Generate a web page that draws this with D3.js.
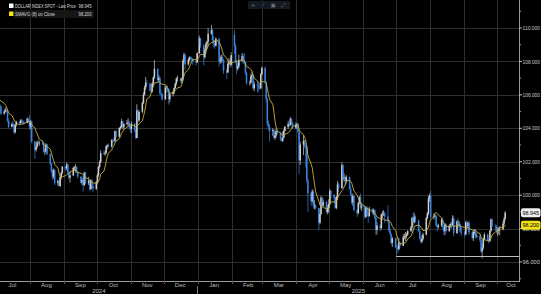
<!DOCTYPE html>
<html><head><meta charset="utf-8">
<script src="https://cdn.jsdelivr.net/npm/d3@7"></script>
<style>html,body{margin:0;padding:0;background:#000;overflow:hidden}svg{display:block}</style>
</head><body>
<svg id="chart" width="541" height="294"></svg>
<script>
// ---- DATA: daily candles [day, open, high, low, close] per month ----
const jun24 = [[20,105.62,105.85,105.55,105.80],[21,105.80,105.91,105.60,105.80],[24,105.80,105.85,105.40,105.50],[25,105.50,105.70,105.40,105.60],[26,105.60,106.13,105.55,106.05],[27,106.05,106.10,105.75,105.90],[28,105.90,106.00,105.60,105.87]];
const jul24 = [[1,105.87,106.00,105.60,105.90],[2,105.90,106.05,105.60,105.73],[3,105.73,105.80,105.25,105.38],[4,105.38,105.45,105.20,105.30],[5,105.30,105.35,104.80,104.88],[8,104.88,105.10,104.80,105.00],[9,105.00,105.25,104.95,105.12],[10,105.12,105.20,104.95,105.05],[11,105.05,105.10,104.35,104.45],[12,104.45,104.55,104.00,104.09],[15,104.09,104.35,104.05,104.26],[16,104.26,104.45,104.15,104.24],[17,104.24,104.30,103.65,103.76],[18,103.76,104.25,103.70,104.20],[19,104.20,104.45,104.10,104.40],[22,104.40,104.45,104.20,104.31],[23,104.31,104.55,104.25,104.47],[24,104.47,104.55,104.30,104.40],[25,104.40,104.50,104.20,104.35],[26,104.35,104.45,104.25,104.32],[29,104.32,104.65,104.30,104.57],[30,104.57,104.60,104.35,104.43],[31,104.43,104.80,103.90,104.10]];
const aug24 = [[1,104.10,104.50,103.95,104.40],[2,104.40,104.45,103.10,103.21],[5,103.21,103.25,102.16,102.71],[6,102.71,103.00,102.60,102.89],[7,102.89,103.25,102.80,103.17],[8,103.17,103.30,103.00,103.14],[9,103.14,103.25,102.95,103.14],[12,103.14,103.30,103.00,103.13],[13,103.13,103.20,102.55,102.61],[14,102.61,102.80,102.40,102.63],[15,102.63,103.10,102.55,103.03],[16,103.03,103.05,102.40,102.45],[19,102.45,102.50,101.80,101.88],[20,101.88,101.95,101.35,101.44],[21,101.44,101.55,100.92,101.10],[22,101.10,101.60,100.98,101.50],[23,101.50,101.55,100.60,100.72],[26,100.72,100.90,100.55,100.85],[27,100.85,100.95,100.51,100.55],[28,100.55,101.15,100.50,101.08],[29,101.08,101.40,100.95,101.34],[30,101.34,101.75,101.25,101.70]];
const sep24 = [[2,101.70,101.75,101.45,101.60],[3,101.60,101.95,101.50,101.84],[4,101.84,101.88,101.25,101.35],[5,101.35,101.42,100.95,101.05],[6,101.05,101.40,100.75,101.18],[9,101.18,101.70,101.15,101.63],[10,101.63,101.75,101.45,101.64],[11,101.64,101.85,101.35,101.66],[12,101.66,101.75,101.30,101.37],[13,101.37,101.40,101.00,101.11],[16,101.11,101.15,100.70,100.75],[17,100.75,101.05,100.60,100.90],[18,100.90,101.15,100.22,100.60],[19,100.60,101.40,100.55,101.35],[20,101.35,101.40,100.65,100.72],[23,100.72,101.10,100.60,100.85],[24,100.85,100.90,100.25,100.36],[25,100.36,100.95,100.30,100.89],[26,100.89,100.95,100.45,100.55],[27,100.55,100.65,100.16,100.38],[30,100.38,100.85,100.30,100.78]];
const oct24 = [[1,100.78,101.30,100.70,101.19],[2,101.19,101.75,101.10,101.68],[3,101.68,102.08,101.60,101.99],[4,101.99,102.69,101.90,102.52],[7,102.52,102.68,102.40,102.47],[8,102.47,102.65,102.35,102.54],[9,102.54,102.98,102.45,102.93],[10,102.93,103.05,102.75,102.99],[11,102.99,103.10,102.85,102.90],[14,102.90,103.35,102.85,103.30],[15,103.30,103.35,103.10,103.25],[16,103.25,103.45,103.15,103.24],[17,103.24,103.87,103.20,103.83],[18,103.83,103.85,103.40,103.49],[21,103.49,104.05,103.45,104.02],[22,104.02,104.15,103.90,104.08],[23,104.08,104.57,104.00,104.42],[24,104.42,104.45,103.95,104.06],[25,104.06,104.30,103.95,104.26],[28,104.26,104.50,104.20,104.31],[29,104.31,104.60,104.15,104.34],[30,104.34,104.45,103.95,104.06],[31,104.06,104.15,103.75,103.97]];
const nov24 = [[1,103.97,104.40,103.70,104.28],[4,104.28,104.30,103.75,103.90],[5,103.90,104.00,103.37,103.42],[6,103.42,105.44,103.40,105.08],[7,105.08,105.15,104.35,104.47],[8,104.47,105.05,104.40,104.99],[11,104.99,105.60,104.90,105.52],[12,105.52,106.15,105.45,106.02],[13,106.02,106.55,105.95,106.45],[14,106.45,107.07,106.30,106.73],[15,106.73,106.90,106.50,106.68],[18,106.68,106.75,106.20,106.25],[19,106.25,106.65,106.10,106.20],[20,106.20,106.75,106.15,106.68],[21,106.68,107.10,106.55,107.04],[22,107.04,108.07,106.95,107.55],[25,107.55,107.60,106.70,106.89],[26,106.89,107.20,106.75,107.03],[27,107.03,107.05,105.98,106.10],[28,106.10,106.30,105.90,106.06],[29,106.06,106.10,105.65,105.74]];
const dec24 = [[2,105.74,106.55,105.70,106.44],[3,106.44,106.55,106.15,106.38],[4,106.38,106.55,106.15,106.35],[5,106.35,106.40,105.42,105.74],[6,105.74,106.10,105.55,106.04],[9,106.04,106.25,105.90,106.16],[10,106.16,106.45,106.05,106.41],[11,106.41,106.75,106.35,106.67],[12,106.67,107.05,106.55,106.96],[13,106.96,107.15,106.80,106.99],[16,106.99,107.00,106.70,106.84],[17,106.84,107.05,106.70,106.97],[18,106.97,108.15,106.85,108.03],[19,108.03,108.54,107.90,108.40],[20,108.40,108.45,107.50,107.82],[23,107.82,108.20,107.75,108.10],[24,108.10,108.30,108.00,108.26],[25,108.26,108.30,108.10,108.18],[26,108.18,108.25,108.00,108.13],[27,108.13,108.20,107.80,108.00],[30,108.00,108.15,107.75,107.94],[31,107.94,108.55,107.90,108.49]];
const jan25 = [[2,108.49,109.54,108.45,109.39],[3,109.39,109.40,108.80,108.95],[6,108.95,109.05,107.75,108.26],[7,108.26,108.80,108.15,108.70],[8,108.70,109.15,108.45,109.06],[9,109.06,109.25,108.90,109.18],[10,109.18,110.00,108.90,109.65],[13,109.65,110.18,109.60,109.88],[14,109.88,109.95,109.10,109.28],[15,109.28,109.50,108.85,109.09],[16,109.09,109.15,108.75,108.94],[17,108.94,109.45,108.90,109.35],[20,109.35,109.40,107.70,108.01],[21,108.01,108.35,107.85,108.07],[22,108.07,108.40,107.90,108.25],[23,108.25,108.45,107.95,108.05],[24,108.05,108.15,107.25,107.44],[27,107.44,107.55,106.95,107.34],[28,107.34,107.95,107.30,107.86],[29,107.86,108.20,107.75,108.04],[30,108.04,108.15,107.60,107.80],[31,107.80,108.55,107.70,108.37]];
const feb25 = [[3,109.60,109.88,108.45,108.94],[4,108.94,109.05,107.90,108.00],[5,108.00,108.10,107.25,107.57],[6,107.57,107.90,107.45,107.71],[7,107.71,108.40,107.60,108.04],[10,108.04,108.50,107.95,108.33],[11,108.33,108.45,107.85,107.96],[12,107.96,108.50,107.80,107.95],[13,107.95,108.00,107.20,107.31],[14,107.31,107.40,106.60,106.71],[17,106.71,106.85,106.55,106.74],[18,106.74,107.25,106.65,107.11],[19,107.11,107.40,106.95,107.19],[20,107.19,107.25,106.30,106.39],[21,106.39,106.80,106.20,106.63],[24,106.63,106.85,106.12,106.56],[25,106.56,106.70,106.20,106.45],[26,106.45,106.70,106.30,106.39],[27,106.39,107.30,106.35,107.24],[28,107.24,107.70,107.15,107.61]];
const mar25 = [[3,107.61,107.70,106.70,106.76],[4,106.76,106.80,105.55,105.72],[5,105.72,105.80,104.15,104.28],[6,104.28,104.45,103.90,104.08],[7,104.08,104.25,103.21,103.84],[10,103.84,104.00,103.55,103.90],[11,103.90,103.95,103.40,103.42],[12,103.42,103.80,103.30,103.57],[13,103.57,103.95,103.45,103.84],[14,103.84,103.95,103.60,103.72],[17,103.72,103.80,103.25,103.37],[18,103.37,103.45,103.20,103.25],[19,103.25,103.80,103.19,103.44],[20,103.44,103.95,103.40,103.84],[21,103.84,104.15,103.80,104.09],[24,104.09,104.45,103.95,104.26],[25,104.26,104.35,104.05,104.21],[26,104.21,104.68,104.15,104.56],[27,104.56,104.60,104.15,104.32],[28,104.32,104.40,103.95,104.04],[31,104.04,104.35,103.95,104.21]];
const apr25 = [[1,104.21,104.30,103.95,104.24],[2,104.24,104.35,103.70,103.79],[3,103.79,103.80,101.26,102.08],[4,102.08,103.20,101.80,103.02],[7,103.02,103.55,102.40,103.26],[8,103.26,103.30,102.80,102.96],[9,102.96,103.10,101.65,102.89],[10,102.89,102.95,100.75,100.86],[11,100.86,101.00,99.01,100.10],[14,100.10,100.20,99.35,99.64],[15,99.64,100.35,99.55,100.22],[16,100.22,100.30,99.20,99.38],[17,99.38,99.70,99.15,99.38],[18,99.38,99.45,99.15,99.23],[21,99.23,99.25,97.92,98.35],[22,98.35,99.15,98.25,98.86],[23,98.86,99.95,98.80,99.85],[24,99.85,99.90,99.25,99.38],[25,99.38,99.75,99.30,99.58],[28,99.58,99.65,98.90,98.99],[29,98.99,99.40,98.85,99.22],[30,99.22,99.75,98.95,99.47]];
const may25 = [[1,99.47,100.38,99.40,100.25],[2,100.25,100.30,99.75,100.03],[5,100.03,100.05,99.55,99.84],[6,99.84,99.90,99.20,99.24],[7,99.24,99.95,99.15,99.89],[8,99.89,100.85,99.70,100.64],[9,100.64,100.75,100.20,100.42],[12,100.42,101.98,100.40,101.79],[13,101.79,101.85,100.90,100.99],[14,100.99,101.30,100.80,101.05],[15,101.05,101.15,100.55,100.84],[16,100.84,101.20,100.70,101.09],[19,101.09,101.10,100.35,100.37],[20,100.37,100.55,99.95,100.05],[21,100.05,100.10,99.45,99.55],[22,99.55,100.10,99.35,99.95],[23,99.95,100.00,99.00,99.11],[26,99.11,99.15,98.70,98.92],[27,98.92,99.60,98.85,99.52],[28,99.52,99.95,99.45,99.88],[29,99.88,100.10,99.15,99.26],[30,99.26,99.55,99.05,99.33]];
const jun25 = [[2,99.33,99.35,98.58,98.70],[3,98.70,99.30,98.65,99.24],[4,99.24,99.35,98.75,98.80],[5,98.80,98.95,98.35,98.75],[6,98.75,99.30,98.70,99.19],[9,99.19,99.20,98.85,98.95],[10,98.95,99.20,98.80,99.09],[11,99.09,99.15,98.55,98.64],[12,98.64,98.70,97.60,97.92],[13,97.92,98.40,97.65,98.18],[16,98.18,98.25,97.85,98.03],[17,98.03,98.90,97.95,98.84],[18,98.84,99.05,98.60,98.89],[19,98.89,99.10,98.75,98.91],[20,98.91,99.00,98.35,98.72],[23,98.72,99.40,98.35,98.43],[24,98.43,98.50,97.80,97.86],[25,97.86,98.05,97.60,97.68],[26,97.68,97.70,97.05,97.15],[27,97.15,97.50,96.90,97.40],[30,97.40,97.45,96.85,96.88]];
const jul25 = [[1,96.88,97.00,96.38,96.81],[2,96.81,97.05,96.55,96.77],[3,96.77,97.45,96.70,97.18],[4,97.18,97.20,96.85,96.97],[7,96.97,97.65,96.95,97.48],[8,97.48,97.70,97.35,97.54],[9,97.54,97.80,97.25,97.56],[10,97.56,97.75,97.40,97.65],[11,97.65,97.90,97.55,97.85],[14,97.85,98.15,97.80,98.08],[15,98.08,98.70,98.00,98.63],[16,98.63,98.95,97.70,98.38],[17,98.38,98.95,98.30,98.72],[18,98.72,98.80,98.35,98.47],[21,98.47,98.55,97.80,97.85],[22,97.85,97.95,97.35,97.39],[23,97.39,97.50,97.10,97.21],[24,97.21,97.60,97.15,97.38],[25,97.38,97.75,97.30,97.64],[28,97.64,98.70,97.60,98.63],[29,98.63,99.00,98.55,98.90],[30,98.90,99.95,98.80,99.80],[31,99.80,100.10,99.60,99.97]];
const aug25 = [[1,99.97,100.26,98.60,98.69],[4,98.69,98.90,98.55,98.78],[5,98.78,98.95,98.60,98.77],[6,98.77,98.80,98.10,98.18],[7,98.18,98.25,97.85,98.10],[8,98.10,98.30,98.00,98.18],[11,98.18,98.60,98.10,98.52],[12,98.52,98.65,97.95,98.09],[13,98.09,98.10,97.62,97.84],[14,97.84,98.35,97.60,98.25],[15,98.25,98.30,97.75,97.85],[18,97.85,98.25,97.80,98.17],[19,98.17,98.35,98.05,98.27],[20,98.27,98.40,98.00,98.22],[21,98.22,98.80,98.15,98.62],[22,98.62,98.75,97.55,97.72],[25,97.72,98.50,97.70,98.43],[26,98.43,98.60,98.10,98.22],[27,98.22,98.45,98.05,98.23],[28,98.23,98.30,97.70,97.82],[29,97.82,98.10,97.55,97.77]];
const sep25 = [[1,97.77,97.85,97.50,97.65],[2,97.65,98.45,97.60,98.37],[3,98.37,98.50,98.05,98.15],[4,98.15,98.40,97.95,98.35],[5,98.35,98.45,97.60,97.77],[8,97.77,97.85,97.35,97.44],[9,97.44,97.90,97.25,97.80],[10,97.80,97.95,97.65,97.80],[11,97.80,97.95,97.40,97.54],[12,97.54,97.70,97.45,97.55],[15,97.55,97.65,97.20,97.31],[16,97.31,97.40,96.55,96.63],[17,96.63,97.10,96.22,96.86],[18,96.86,97.45,96.75,97.35],[19,97.35,97.75,97.30,97.64],[22,97.64,97.70,97.25,97.33],[23,97.33,97.45,97.10,97.25],[24,97.25,97.90,97.20,97.86],[25,97.86,98.60,97.80,98.55],[26,98.55,98.60,98.10,98.15],[29,98.15,98.25,97.85,98.12],[30,98.12,98.20,97.70,97.90]];
const oct25 = [[1,97.90,98.05,97.55,97.90],[2,97.90,98.10,97.65,97.905],[3,97.905,98.15,97.60,97.95],[6,97.95,98.45,97.90,98.30],[7,98.30,98.70,98.20,98.58],[8,98.58,99.05,98.50,98.945]];

const monthBlocks = [[2024,6,jun24],[2024,7,jul24],[2024,8,aug24],[2024,9,sep24],[2024,10,oct24],[2024,11,nov24],[2024,12,dec24],[2025,1,jan25],[2025,2,feb25],[2025,3,mar25],[2025,4,apr25],[2025,5,may25],[2025,6,jun25],[2025,7,jul25],[2025,8,aug25],[2025,9,sep25],[2025,10,oct25]];

const maPeriod = 8;
const yMajorTicks = [96, 98, 100, 102, 104, 106, 108, 110];
const yMinorTicks = [95, 97, 99, 101, 103, 105, 107, 109, 111];
const monthLabels = ["Jul","Aug","Sep","Oct","Nov","Dec","Jan","Feb","Mar","Apr","May","Jun","Jul","Aug","Sep","Oct"];
const monthStarts = ["2024-07","2024-08","2024-09","2024-10","2024-11","2024-12","2025-01","2025-02","2025-03","2025-04","2025-05","2025-06","2025-07","2025-08","2025-09","2025-10"];
const yearLabels = ["2024","2025"];
const supportLevel = {date: "2025-07-01", value: 96.38};
const legendItems = [
  {label: "DOLLAR INDEX SPOT - Last Price", value: "98.945", color: "#ffffff", maxW: 61},
  {label: "SMAVG (8)  on Close", value: "98.200", color: "#f2e21c", maxW: 40}
];

// ---- BUILD ----
const candles = [];
monthBlocks.forEach(([yr, mo, rows]) => rows.forEach(r => candles.push({
  date: new Date(Date.UTC(yr, mo - 1, r[0], 12)), o: r[1], h: r[2], l: r[3], c: r[4]
})));
candles.forEach((d, i) => {
  d.ma = i >= maPeriod - 1 ? d3.mean(candles.slice(i - maPeriod + 1, i + 1), e => e.c) : null;
});
const last = candles[candles.length - 1];

const W = 541, H = 294, plotR = 519, plotB = 281;
const font = "'Liberation Sans', Arial, sans-serif";
const svg = d3.select("#chart");
svg.append("rect").attr("width", W).attr("height", H).attr("fill", "#000");

// squeeze a text horizontally (condensed look) so that it fits maxW
function squeeze(sel, maxW) {
  sel.each(function() {
    const w = this.getComputedTextLength();
    if (w > maxW) {
      const tx = +this.getAttribute("x"), ty = +this.getAttribute("y");
      this.setAttribute("x", 0); this.setAttribute("y", 0);
      this.setAttribute("transform", `translate(${tx},${ty}) scale(${maxW / w},1)`);
    }
  });
}

const x = d3.scaleUtc().domain([new Date(Date.UTC(2024,7,1)), new Date(Date.UTC(2025,9,1))]).range([30, 497]);
const y = d3.scaleLinear().domain([96, 110]).range([262, 28]);

svg.append("clipPath").attr("id", "clip").append("rect").attr("x", 0).attr("y", 0).attr("width", plotR).attr("height", plotB);

// grid
const grid = svg.append("g").attr("clip-path", "url(#clip)");
const monthDates = monthStarts.map(s => new Date(Date.UTC(+s.slice(0,4), +s.slice(5,7) - 1, 1)));
grid.selectAll(".vg").data(monthDates).join("line")
  .attr("x1", d => Math.round(x(d)) + 0.5).attr("x2", d => Math.round(x(d)) + 0.5)
  .attr("y1", 0).attr("y2", plotB).attr("stroke", "#2e2e2e").attr("stroke-width", 1);
grid.selectAll(".hg").data(yMajorTicks).join("line")
  .attr("x1", 0).attr("x2", plotR).attr("y1", d => Math.round(y(d)) + 0.5).attr("y2", d => Math.round(y(d)) + 0.5)
  .attr("stroke", "#2e2e2e").attr("stroke-width", 1);

// candles
const cg = svg.append("g").attr("clip-path", "url(#clip)");
const upCol = "#cfcfcf", dnCol = "#3a84e0";
cg.selectAll(".wick").data(candles).join("line")
  .attr("x1", d => x(d.date)).attr("x2", d => x(d.date))
  .attr("y1", d => y(Math.max(d.h, d.o, d.c))).attr("y2", d => y(Math.min(d.l, d.o, d.c)))
  .attr("stroke", d => d.c >= d.o ? upCol : dnCol).attr("stroke-width", 0.7);
cg.selectAll(".body").data(candles).join("rect")
  .attr("x", d => x(d.date) - 0.75).attr("width", 1.5)
  .attr("y", d => y(Math.max(d.o, d.c)))
  .attr("height", d => Math.max(0.6, Math.abs(y(d.o) - y(d.c))))
  .attr("fill", d => d.c >= d.o ? upCol : dnCol);

// moving average
cg.append("path").datum(candles.filter(d => d.ma !== null))
  .attr("d", d3.line().x(d => x(d.date)).y(d => y(d.ma)))
  .attr("fill", "none").attr("stroke", "#c9b040").attr("stroke-width", 0.9);

// support line
const sDate = new Date(supportLevel.date + "T00:00:00Z");
cg.append("line").attr("x1", x(sDate)).attr("x2", plotR)
  .attr("y1", Math.round(y(supportLevel.value)) + 0.5).attr("y2", Math.round(y(supportLevel.value)) + 0.5)
  .attr("stroke", "#bdbdbd").attr("stroke-width", 1);

// axes lines
svg.append("line").attr("x1", plotR + 0.5).attr("x2", plotR + 0.5).attr("y1", 0).attr("y2", plotB + 1).attr("stroke", "#9a9a9a");
svg.append("line").attr("x1", 0).attr("x2", plotR + 1).attr("y1", plotB + 0.5).attr("y2", plotB + 0.5).attr("stroke", "#9a9a9a");

// right axis ticks and labels
svg.selectAll(".ymin").data(yMinorTicks).join("line")
  .attr("x1", plotR).attr("x2", plotR + 2).attr("y1", d => y(d)).attr("y2", d => y(d)).attr("stroke", "#9a9a9a");
svg.selectAll(".ymaj").data(yMajorTicks).join("line")
  .attr("x1", plotR).attr("x2", plotR + 3).attr("y1", d => y(d)).attr("y2", d => y(d)).attr("stroke", "#bbbbbb");
const ylab = svg.selectAll(".ylab").data(yMajorTicks).join("text")
  .attr("x", plotR + 3.5).attr("y", d => y(d)).attr("dy", "0.35em")
  .attr("font-family", font).attr("font-size", 6.2).attr("fill", "#c8c8c8")
  .text(d => d3.format(".3f")(d));
squeeze(ylab, 17.5);

// bottom ticks & labels
svg.selectAll(".xt").data(monthDates).join("line")
  .attr("x1", d => Math.round(x(d)) + 0.5).attr("x2", d => Math.round(x(d)) + 0.5)
  .attr("y1", plotB).attr("y2", plotB + 3).attr("stroke", "#555");
const midMonth = monthDates.map(d => new Date(Date.UTC(d.getUTCFullYear(), d.getUTCMonth(), 16)));
svg.selectAll(".xl").data(monthLabels).join("text")
  .attr("x", (d, i) => Math.min(x(midMonth[i]), 511)).attr("y", 287)
  .attr("text-anchor", "middle").attr("font-family", font).attr("font-size", 6).attr("fill", "#bdbdbd")
  .text(d => d);
const [d0, d1] = [x.invert(0), x.invert(plotR)];
const yb = new Date(Date.UTC(2025, 0, 1));
const yearCenters = [x(new Date((d0.getTime() + yb.getTime()) / 2)), x(new Date((yb.getTime() + d1.getTime()) / 2))];
svg.selectAll(".yl").data(yearLabels).join("text")
  .attr("x", (d, i) => yearCenters[i]).attr("y", 293)
  .attr("text-anchor", "middle").attr("font-family", font).attr("font-size", 6).attr("fill", "#bdbdbd")
  .text(d => d);
svg.append("line").attr("x1", Math.round(x(yb)) - 0.5).attr("x2", Math.round(x(yb)) - 0.5)
  .attr("y1", 286).attr("y2", 294).attr("stroke", "#777");

// last value tags
const tagData = [{v: last.ma, fill: "#f2e21c"}, {v: last.c, fill: "#eeeeee"}];
tagData.forEach(t => {
  const g = svg.append("g").attr("transform", `translate(${plotR + 2},${y(t.v)})`);
  g.append("rect").attr("x", 0).attr("y", -4.5).attr("width", 19.5).attr("height", 9).attr("rx", 2).attr("fill", t.fill);
  const tt = g.append("text").attr("x", 9.75).attr("y", 0).attr("dy", "0.35em").attr("text-anchor", "middle")
    .attr("font-family", font).attr("font-size", 6.2).attr("fill", "#000")
    .text(d3.format(".3f")(t.v));
  squeeze(tt, 16.5);
});

// legend
legendItems.forEach((it, i) => {
  const yy = 6 + i * 8;
  if (i === 1) svg.append("rect").attr("x", 14).attr("y", yy - 4).attr("width", 80).attr("height", 8).attr("fill", "#161616");
  svg.append("rect").attr("x", 9).attr("y", yy - 2.5).attr("width", 4.5).attr("height", 4.5).attr("fill", it.color);
  const lt = svg.append("text").attr("x", 15).attr("y", yy).attr("dy", "0.35em").attr("font-family", font)
    .attr("font-size", 6).attr("fill", "#dcdcdc").text(it.label);
  squeeze(lt, it.maxW);
  const vt = svg.append("text").attr("x", 91.5).attr("y", yy).attr("dy", "0.35em").attr("text-anchor", "end").attr("font-family", font)
    .attr("font-size", 6).attr("fill", "#dcdcdc").text(it.value);
  squeeze(vt, 13);
});

// toolbar icons
const tb = svg.append("g").attr("transform", "translate(248,1)");
tb.append("rect").attr("width", 42).attr("height", 8).attr("fill", "#151a22");
["+", "⁄", "▣", "⤢"].forEach((g, i) => {
  tb.append("text").attr("x", 5 + i * 10).attr("y", 4).attr("dy", "0.35em").attr("text-anchor", "middle")
    .attr("font-family", "DejaVu Sans").attr("font-size", 5.5).attr("fill", i === 1 ? "#4a78b0" : "#777").text(g);
});
</script>
</body></html>
